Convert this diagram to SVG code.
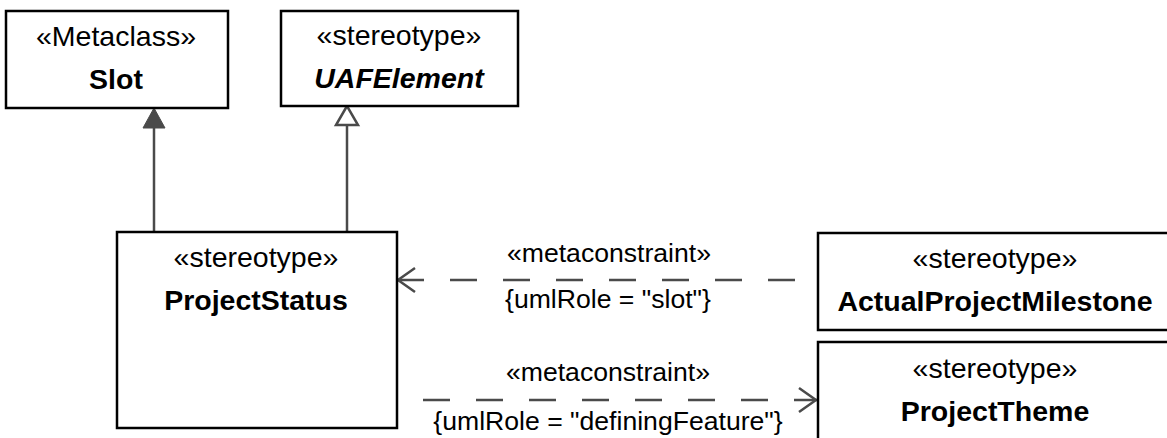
<svg xmlns="http://www.w3.org/2000/svg" width="1167" height="438" viewBox="0 0 1167 438">
<defs>
<style>
.box{fill:#fff;stroke:#000;stroke-width:2.5}
.t{font-family:"Liberation Sans",Arial,sans-serif;font-size:28.5px;fill:#000;text-anchor:middle}
.b{font-weight:bold}
.bi{font-weight:bold;font-style:italic}
.lbl{font-family:"Liberation Sans",Arial,sans-serif;font-size:26.6px;fill:#000;text-anchor:middle}
.con{stroke:#4a4a4a;stroke-width:2.5;fill:none}
.dash{stroke-dasharray:27 26}
</style>
</defs>
<rect width="1167" height="438" fill="#fff"/>
<g id="connectors">
<line class="con" x1="154" y1="232" x2="154" y2="127"/>
<polygon points="154,108 143,128 165,128" fill="#4a4a4a" stroke="#4a4a4a" stroke-width="1"/>
<line class="con" x1="347" y1="232" x2="347" y2="126"/>
<polygon points="347,106 336,125 358,125" fill="#fff" stroke="#4a4a4a" stroke-width="2.5"/>
<line class="con dash" x1="795" y1="280" x2="397" y2="280"/>
<polyline class="con" points="415,268 398,280 415,292"/>
<line class="con dash" x1="423" y1="400" x2="817" y2="400"/>
<polyline class="con" points="799,388 816,400 799,412"/>
<text class="lbl" x="609" y="262">«metaconstraint»</text>
<text class="lbl" x="608" y="308">{umlRole = "slot"}</text>
<text class="lbl" x="608" y="381">«metaconstraint»</text>
<text class="lbl" x="608" y="430">{umlRole = "definingFeature"}</text>
</g>
<g id="slot">
<rect class="box" x="6" y="11" width="222" height="97"/>
<text class="t" x="116" y="46">«Metaclass»</text>
<text class="t b" x="116" y="89">Slot</text>
</g>
<g id="uafelement">
<rect class="box" x="281" y="11" width="237" height="95"/>
<text class="t" x="399" y="45">«stereotype»</text>
<text class="t bi" x="399" y="88">UAFElement</text>
</g>
<g id="projectstatus">
<rect class="box" x="117" y="232" width="280" height="196"/>
<text class="t" x="256" y="267">«stereotype»</text>
<text class="t b" x="256" y="310">ProjectStatus</text>
</g>
<g id="actualprojectmilestone">
<rect class="box" x="818" y="233" width="352" height="97"/>
<text class="t" x="995" y="268">«stereotype»</text>
<text class="t b" x="995" y="311">ActualProjectMilestone</text>
</g>
<g id="projecttheme">
<rect class="box" x="818" y="342" width="352" height="100"/>
<text class="t" x="995" y="378">«stereotype»</text>
<text class="t b" x="995" y="421">ProjectTheme</text>
</g>
</svg>
